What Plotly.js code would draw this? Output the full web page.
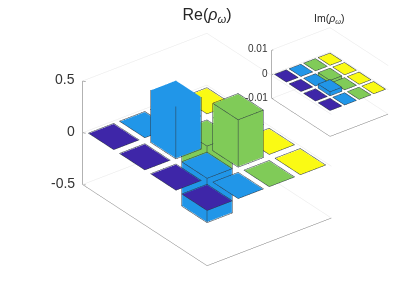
<!DOCTYPE html>
<html><head><meta charset="utf-8">
<script src="https://cdn.plot.ly/plotly-3.0.1.min.js"></script>
<style>html,body{margin:0;padding:0;background:#fff}#c{width:399px;height:299px}</style>
</head><body><div id="c"></div>
<script>
var rowPositions=[1,2,3,4];
var colPositions=[1,2,3,4];
var seriesColors=['#3E26A8','#2196E8','#80CB58','#FAFA14'];
var reValues=[
 [0,0,0,0],
 [0,0.5,-0.42,0],
 [0,-0.42,0.45,0],
 [0,0,0,0]];
var imValues=[
 [0,0,0,0],
 [0,0,-0.0015,0],
 [0,0.0015,0,0],
 [0,0,0,0]];
var reTicks=[-0.5,0,0.5], reTickText=['-0.5','0','0.5'];
var imTicks=[-0.01,0,0.01], imTickText=['-0.01','0','0.01'];
var barWidth=0.8;
var planeRange=[0.5,4.5];

function barTraces(vals,sceneId,zEps,ticks,zRange){
  var out=[];var ex=[],ey=[],ez=[];
  colPositions.forEach(function(cp,j){
    var X=[],Y=[],Z=[],I=[],J=[],K=[];
    rowPositions.forEach(function(rp,i){
      var v=vals[i][j],n=X.length,h=barWidth/2;
      var x0=rp-h,x1=rp+h,y0=cp-h,y1=cp+h;
      [[x0,y0,0],[x1,y0,0],[x1,y1,0],[x0,y1,0],[x0,y0,v],[x1,y0,v],[x1,y1,v],[x0,y1,v]].forEach(function(p){X.push(p[0]);Y.push(p[1]);Z.push(p[2]);});
      [[0,1,2],[0,2,3],[4,5,6],[4,6,7],[0,1,5],[0,5,4],[1,2,6],[1,6,5],[2,3,7],[2,7,6],[3,0,4],[3,4,7]].forEach(function(t){I.push(n+t[0]);J.push(n+t[1]);K.push(n+t[2]);});
      var e=0.008,a0=x0-e,a1=x1+e,b0=y0-e,b1=y1+e;
      var top=Math.max(v,0)+zEps, low=Math.min(v,0)-zEps;
      [[a0,b0],[a1,b0],[a1,b1],[a0,b1],[a0,b0]].forEach(function(p){ex.push(p[0]);ey.push(p[1]);ez.push(top);});
      ex.push(null);ey.push(null);ez.push(null);
      if(v!==0){
        [[a0,b0],[a1,b0],[a1,b1],[a0,b1],[a0,b0]].forEach(function(p){ex.push(p[0]);ey.push(p[1]);ez.push(low);});
        ex.push(null);ey.push(null);ez.push(null);
        [[a0,b0],[a1,b0],[a1,b1],[a0,b1]].forEach(function(p){ex.push(p[0],p[0],null);ey.push(p[1],p[1],null);ez.push(low,top,null);});
      }
    });
    out.push({type:'mesh3d',scene:sceneId,x:X,y:Y,z:Z,i:I,j:J,k:K,color:seriesColors[j],flatshading:true,
      lighting:{ambient:1,diffuse:0,specular:0,fresnel:0,roughness:1},hoverinfo:'skip',showscale:false});
  });
  out.push({type:'scatter3d',scene:sceneId,mode:'lines',x:ex,y:ey,z:ez,line:{color:'rgb(45,55,65)',width:1},hoverinfo:'skip',showlegend:false});
  var c=planeRange[0],ax=[c,c],ay=[c,c],az=[zRange[0],zRange[1]];
  ticks.forEach(function(t){ax.push(null,c,c+0.05);ay.push(null,c,c+0.05);az.push(null,t,t);});
  out.push({type:'scatter3d',scene:sceneId,mode:'lines',x:ax,y:ay,z:az,line:{color:'#666',width:1},hoverinfo:'skip',showlegend:false});
  return out;
}
function sceneCfg(dom,ticks,text,range,fs,asp,r,xs,ys){
  var hidden={range:planeRange,showgrid:false,zeroline:false,showticklabels:false,ticks:'',showline:true,linecolor:'#777',linewidth:1,showbackground:false,showspikes:false,title:{text:''}};
  return {domain:dom,
    xaxis:hidden,yaxis:Object.assign({},hidden),
    zaxis:{range:range,tickvals:ticks,ticktext:text,showticklabels:false,showgrid:true,gridcolor:'#e6e6e6',gridwidth:1,zeroline:false,showline:false,showbackground:false,showspikes:false,title:{text:''},ticks:''},
    aspectmode:'manual',aspectratio:asp,
    camera:{projection:{type:'orthographic'},up:{x:0,y:0,z:1},center:{x:0,y:0,z:0},eye:{x:0.687*r,y:-0.527*r,z:0.5*r}},
    annotations:ticks.map(function(t,i){return {x:planeRange[0],y:planeRange[0],z:t,text:text[i],showarrow:false,xanchor:'right',yanchor:'middle',xshift:xs,yshift:ys,font:{family:'Liberation Sans',size:fs,color:'#333'}};})};
}
var data=barTraces(reValues,'scene',0.004,reTicks,[-0.5,0.5]).concat(barTraces(imValues,'scene2',0.00008,imTicks,[-0.01,0.01]));
var layout={width:399,height:299,margin:{l:0,r:0,t:0,b:0},paper_bgcolor:'#fff',showlegend:false,
 title:{text:'Re(<i>ρ</i><sub><i>ω</i></sub>)',x:207/399,xanchor:'center',y:1-14/299,yanchor:'middle',font:{family:'Liberation Sans',size:16,color:'#262626'}},
 scene:sceneCfg({x:[15/399,1],y:[0,1]},reTicks,reTickText,[-0.5,0.5],14,{x:1.368,y:1.048,z:0.8},2,-6,2),
 scene2:sceneCfg({x:[261/399,1],y:[147/299,287/299]},imTicks,imTickText,[-0.01,0.01],10,{x:1.368,y:1.048,z:0.8},2,-2,1),
 annotations:[{text:'Im(<i>ρ</i><sub><i>ω</i></sub>)',xref:'paper',yref:'paper',x:329/399,y:1-19/299,xanchor:'center',yanchor:'middle',showarrow:false,font:{family:'Liberation Sans',size:10.5,color:'#262626'}}]
};
Plotly.newPlot('c',data,layout,{displayModeBar:false});
</script></body></html>
